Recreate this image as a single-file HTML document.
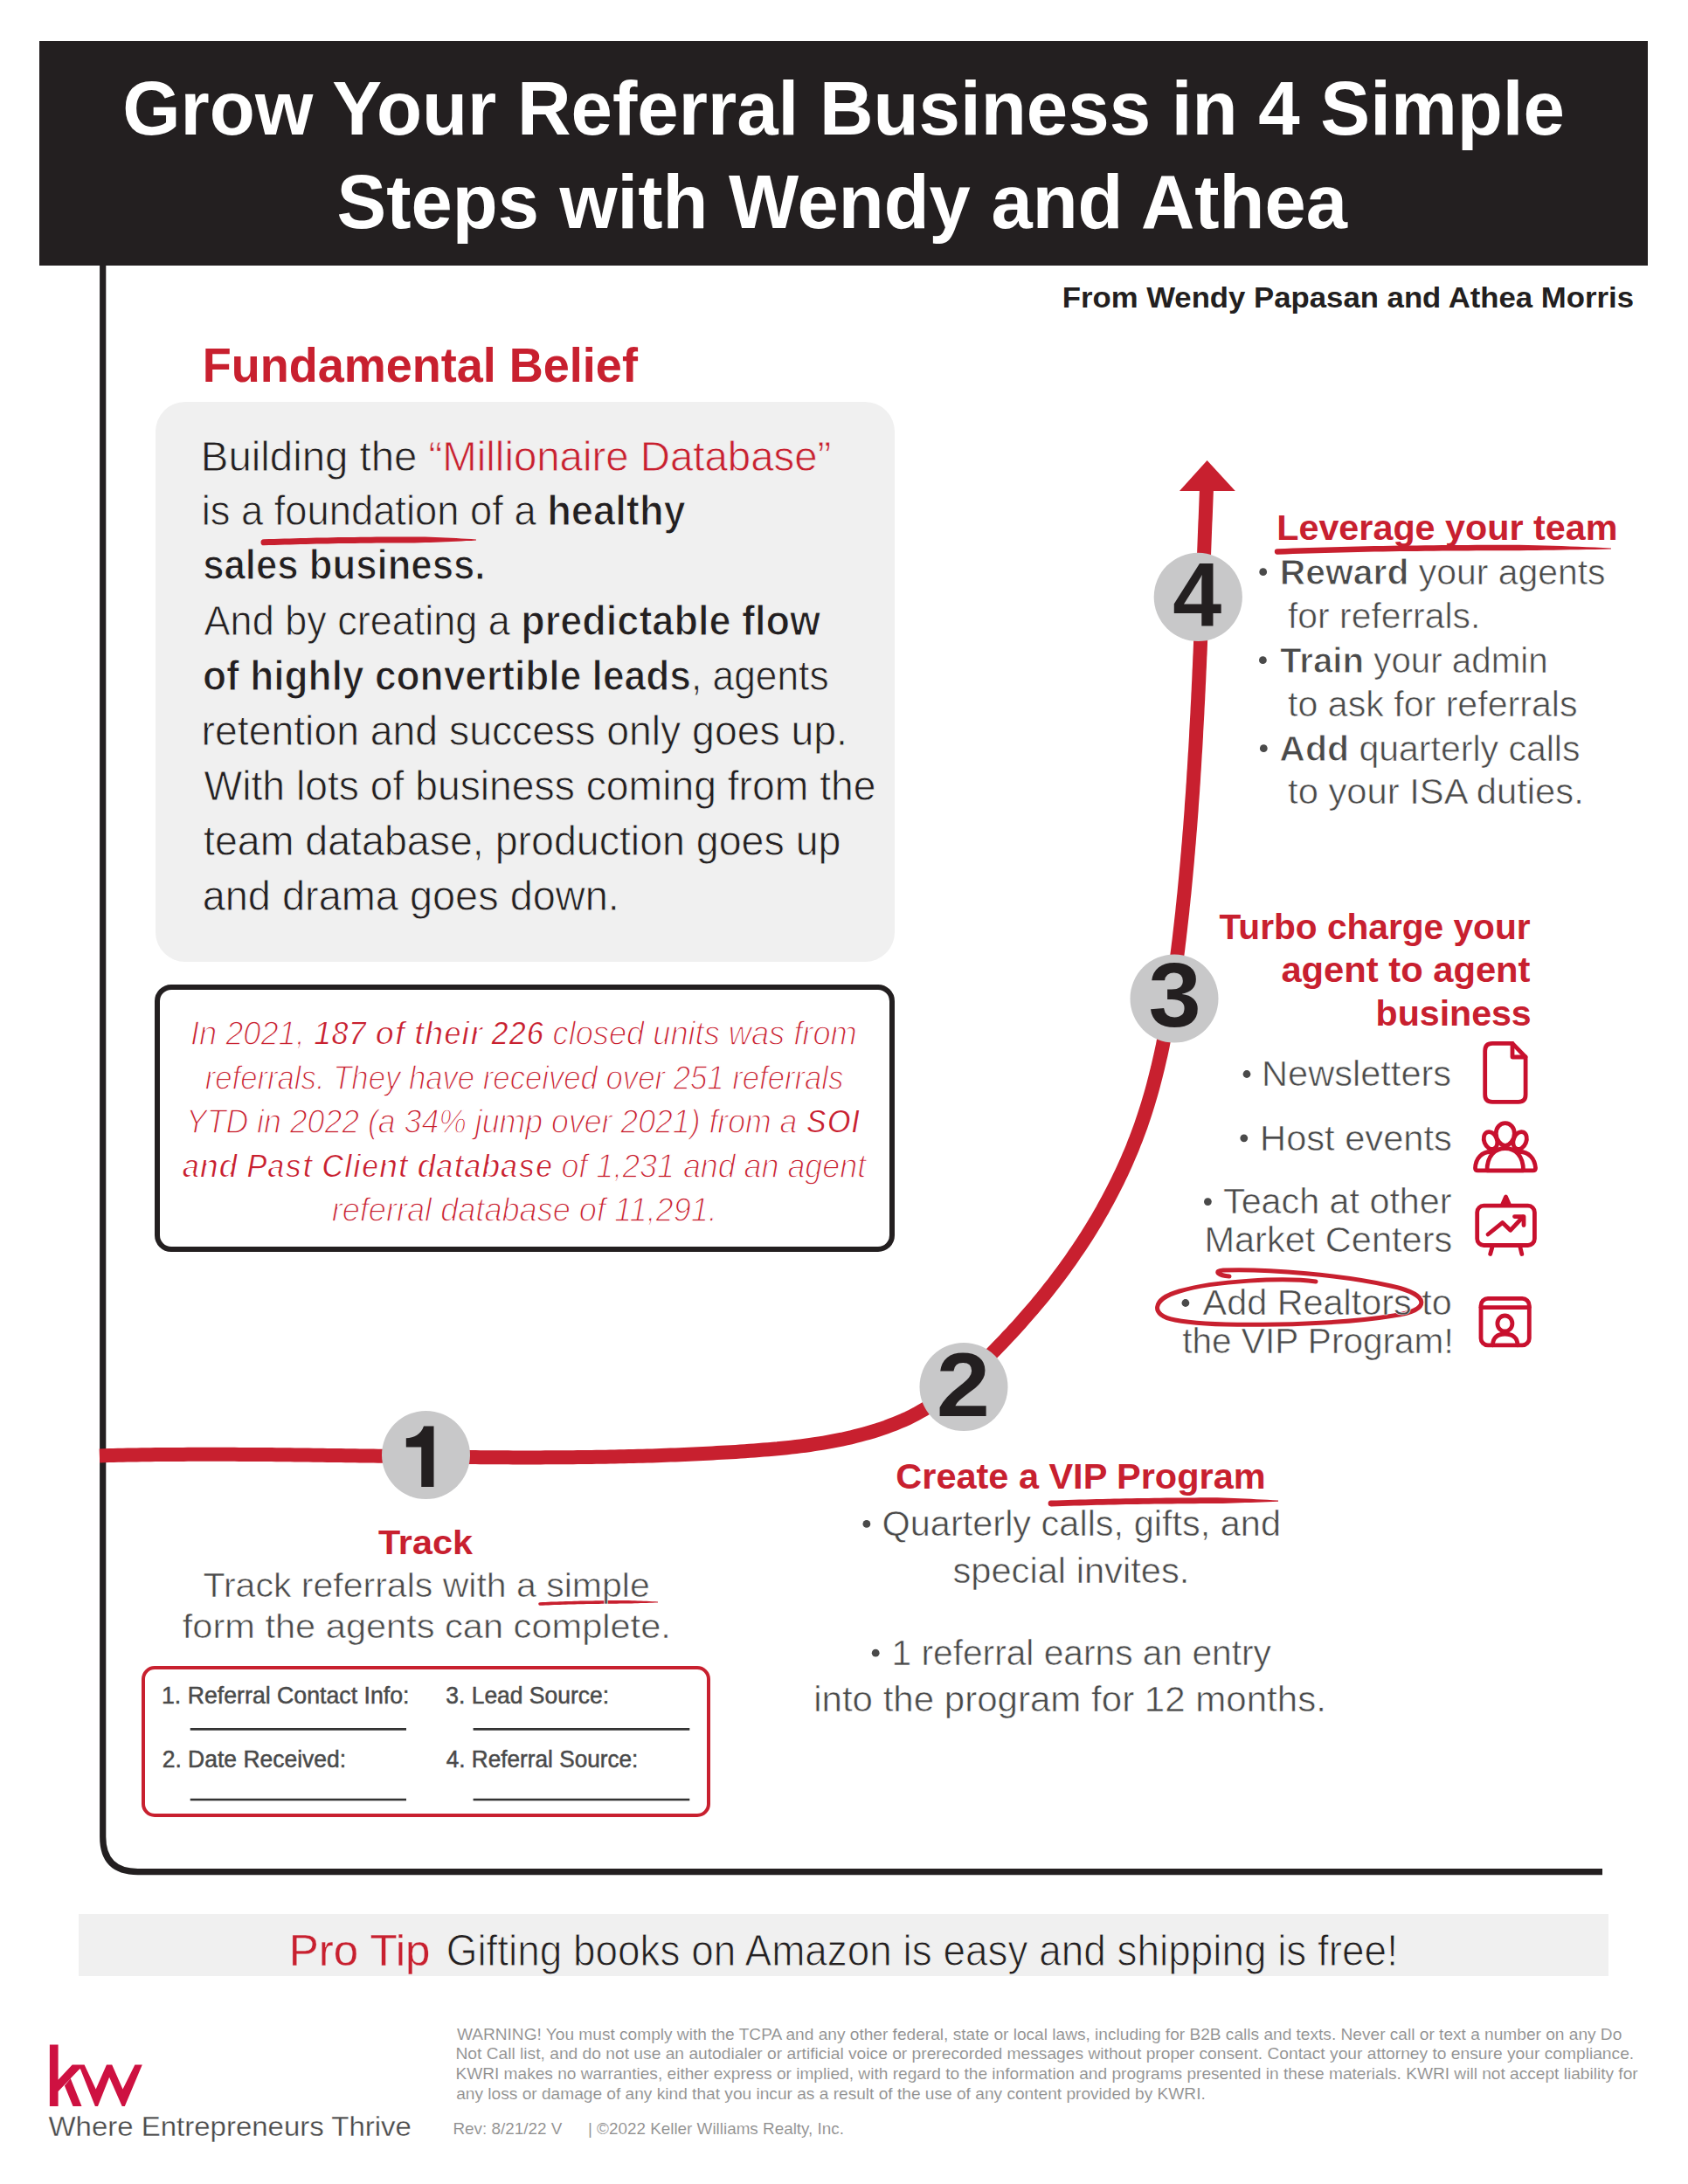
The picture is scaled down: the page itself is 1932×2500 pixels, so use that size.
<!DOCTYPE html>
<html><head><meta charset="utf-8"><title>Grow Your Referral Business in 4 Simple Steps</title>
<style>
html,body{margin:0;padding:0;background:#fff;}
body{width:1932px;height:2500px;position:relative;overflow:hidden;font-family:"Liberation Sans",sans-serif;}
.abs{position:absolute;}
#hdr{left:45px;top:47px;width:1841px;height:257px;background:#231f20;}
#gray{left:178px;top:460px;width:846px;height:641px;background:#f0f0f0;border-radius:34px;}
#stat{left:177px;top:1127px;width:835px;height:294px;border:6.5px solid #231f20;border-radius:19px;background:#fff;}
#form{left:162px;top:1907px;width:643px;height:165px;border:4px solid #c8202f;border-radius:15px;}
#tip{left:90px;top:2191px;width:1751px;height:71px;background:#f0f0f0;}
svg{position:absolute;left:0;top:0;}
text{font-family:"Liberation Sans",sans-serif;}
</style></head>
<body>
<div class="abs" id="hdr"></div>
<div class="abs" id="gray"></div>
<div class="abs" id="stat"></div>
<div class="abs" id="form"></div>
<div class="abs" id="tip"></div>
<svg width="1932" height="2500" viewBox="0 0 1932 2500">

<!-- axes -->
<path d="M 117.7 300 V 2102.6 Q 117.7 2142.6 157.7 2142.6 H 1834" fill="none" stroke="#231f20" stroke-width="7.2"/>
<!-- curve -->
<path d="M 113.9 1666.4 L 119.3 1666.2 L 124.6 1666.1 L 129.9 1666.0 L 135.2 1665.8 L 140.6 1665.7 L 145.9 1665.6 L 151.2 1665.5 L 156.5 1665.4 L 161.9 1665.3 L 167.2 1665.3 L 172.5 1665.2 L 177.8 1665.1 L 183.2 1665.1 L 188.5 1665.0 L 193.8 1665.0 L 199.1 1664.9 L 204.4 1664.9 L 209.8 1664.9 L 215.1 1664.8 L 220.4 1664.8 L 225.7 1664.8 L 231.0 1664.8 L 236.4 1664.8 L 241.7 1664.8 L 247.0 1664.8 L 252.3 1664.8 L 257.6 1664.8 L 262.9 1664.8 L 268.3 1664.8 L 273.6 1664.9 L 278.9 1664.9 L 284.2 1664.9 L 289.5 1664.9 L 294.8 1665.0 L 300.1 1665.0 L 305.5 1665.1 L 310.8 1665.1 L 316.1 1665.2 L 321.4 1665.2 L 326.7 1665.3 L 332.0 1665.3 L 337.3 1665.4 L 342.6 1665.5 L 348.0 1665.5 L 353.3 1665.6 L 358.6 1665.7 L 363.9 1665.7 L 369.2 1665.8 L 374.5 1665.9 L 379.8 1665.9 L 385.1 1666.0 L 390.4 1666.1 L 395.8 1666.2 L 401.1 1666.2 L 406.4 1666.3 L 411.7 1666.4 L 417.0 1666.5 L 422.3 1666.6 L 427.6 1666.6 L 432.9 1666.7 L 438.2 1666.8 L 443.5 1666.9 L 448.9 1667.0 L 454.2 1667.0 L 459.5 1667.1 L 464.8 1667.2 L 470.1 1667.3 L 475.4 1667.3 L 480.7 1667.4 L 486.0 1667.5 L 491.3 1667.5 L 496.6 1667.6 L 501.9 1667.7 L 507.3 1667.7 L 512.6 1667.8 L 517.9 1667.9 L 523.2 1667.9 L 528.5 1668.0 L 533.8 1668.0 L 539.1 1668.1 L 544.4 1668.1 L 549.7 1668.2 L 555.0 1668.2 L 560.3 1668.2 L 565.7 1668.3 L 571.0 1668.3 L 576.3 1668.3 L 581.6 1668.3 L 586.9 1668.4 L 592.2 1668.4 L 597.5 1668.4 L 602.8 1668.4 L 608.1 1668.4 L 613.4 1668.4 L 618.8 1668.4 L 624.1 1668.3 L 629.4 1668.3 L 634.7 1668.3 L 640.0 1668.3 L 645.3 1668.2 L 650.6 1668.2 L 655.9 1668.2 L 661.2 1668.1 L 666.6 1668.0 L 671.9 1668.0 L 677.2 1667.9 L 682.5 1667.8 L 687.8 1667.7 L 693.1 1667.7 L 698.4 1667.6 L 703.7 1667.5 L 709.1 1667.3 L 714.4 1667.2 L 719.7 1667.1 L 725.0 1667.0 L 730.3 1666.8 L 735.6 1666.7 L 740.9 1666.5 L 746.3 1666.4 L 751.6 1666.2 L 756.9 1666.0 L 762.2 1665.8 L 767.5 1665.6 L 772.8 1665.4 L 778.2 1665.2 L 783.5 1665.0 L 788.8 1664.7 L 794.1 1664.5 L 799.4 1664.2 L 804.7 1664.0 L 810.1 1663.7 L 815.4 1663.4 L 820.7 1663.1 L 826.0 1662.8 L 831.4 1662.5 L 836.7 1662.2 L 842.0 1661.9 L 847.3 1661.5 L 852.6 1661.2 L 858.0 1660.8 L 863.3 1660.4 L 868.6 1660.0 L 873.9 1659.6 L 879.2 1659.2 L 884.6 1658.7 L 889.9 1658.3 L 895.2 1657.7 L 900.5 1657.2 L 905.8 1656.6 L 911.1 1656.0 L 916.3 1655.4 L 921.6 1654.7 L 926.9 1654.0 L 932.1 1653.2 L 937.4 1652.4 L 942.6 1651.6 L 947.8 1650.7 L 953.0 1649.7 L 958.2 1648.7 L 963.4 1647.7 L 968.6 1646.5 L 973.8 1645.4 L 978.9 1644.1 L 984.0 1642.8 L 989.1 1641.4 L 994.2 1640.0 L 999.3 1638.5 L 1004.4 1636.9 L 1009.4 1635.2 L 1014.4 1633.5 L 1019.4 1631.6 L 1024.3 1629.7 L 1029.2 1627.7 L 1034.1 1625.6 L 1038.9 1623.4 L 1043.6 1621.1 L 1048.3 1618.7 L 1053.0 1616.1 L 1057.5 1613.5 L 1062.0 1610.8 L 1066.5 1607.9 L 1070.9 1605.0 L 1075.2 1602.0 L 1079.5 1598.9 L 1083.8 1595.7 L 1087.9 1592.4 L 1092.1 1589.1 L 1096.2 1585.7 L 1100.2 1582.3 L 1104.3 1578.7 L 1108.2 1575.2 L 1112.2 1571.6 L 1116.1 1567.9 L 1120.0 1564.2 L 1123.8 1560.5 L 1127.6 1556.7 L 1131.4 1552.9 L 1135.2 1549.1 L 1138.9 1545.3 L 1142.7 1541.4 L 1146.4 1537.6 L 1150.1 1533.7 L 1153.7 1529.8 L 1157.4 1525.9 L 1161.0 1522.0 L 1164.6 1518.1 L 1168.2 1514.1 L 1171.7 1510.1 L 1175.2 1506.1 L 1178.7 1502.1 L 1182.2 1498.1 L 1185.6 1494.0 L 1189.0 1489.9 L 1192.4 1485.8 L 1195.8 1481.7 L 1199.1 1477.5 L 1202.4 1473.3 L 1205.7 1469.1 L 1208.9 1464.9 L 1212.1 1460.6 L 1215.3 1456.4 L 1218.5 1452.1 L 1221.6 1447.7 L 1224.7 1443.4 L 1227.7 1439.0 L 1230.7 1434.6 L 1233.7 1430.2 L 1236.7 1425.8 L 1239.6 1421.3 L 1242.5 1416.9 L 1245.3 1412.4 L 1248.1 1407.9 L 1250.9 1403.3 L 1253.7 1398.8 L 1256.4 1394.2 L 1259.0 1389.6 L 1261.7 1385.0 L 1264.2 1380.3 L 1266.8 1375.7 L 1269.3 1371.0 L 1271.8 1366.3 L 1274.2 1361.6 L 1276.6 1356.9 L 1279.0 1352.1 L 1281.3 1347.3 L 1283.6 1342.6 L 1285.8 1337.7 L 1288.0 1332.9 L 1290.1 1328.1 L 1292.2 1323.2 L 1294.3 1318.3 L 1296.3 1313.5 L 1298.2 1308.5 L 1300.2 1303.6 L 1302.0 1298.7 L 1303.9 1293.7 L 1305.7 1288.7 L 1307.4 1283.7 L 1309.1 1278.7 L 1310.7 1273.7 L 1312.3 1268.7 L 1313.9 1263.6 L 1315.4 1258.5 L 1316.9 1253.4 L 1318.4 1248.3 L 1319.8 1243.2 L 1321.1 1238.1 L 1322.4 1233.0 L 1323.7 1227.8 L 1325.0 1222.7 L 1326.2 1217.5 L 1327.4 1212.3 L 1328.6 1207.2 L 1329.7 1202.0 L 1330.8 1196.8 L 1331.8 1191.5 L 1332.9 1186.3 L 1333.9 1181.1 L 1334.9 1175.9 L 1335.8 1170.6 L 1336.8 1165.4 L 1337.7 1160.1 L 1338.5 1154.9 L 1339.4 1149.6 L 1340.2 1144.3 L 1341.0 1139.0 L 1341.8 1133.8 L 1342.6 1128.5 L 1343.4 1123.2 L 1344.1 1117.9 L 1344.9 1112.6 L 1345.6 1107.3 L 1346.3 1102.0 L 1346.9 1096.7 L 1347.6 1091.4 L 1348.3 1086.1 L 1348.9 1080.8 L 1349.6 1075.5 L 1350.2 1070.2 L 1350.8 1065.0 L 1351.4 1059.7 L 1352.0 1054.4 L 1352.6 1049.1 L 1353.2 1043.8 L 1353.7 1038.5 L 1354.3 1033.2 L 1354.8 1027.9 L 1355.4 1022.6 L 1355.9 1017.3 L 1356.4 1012.0 L 1356.9 1006.7 L 1357.4 1001.4 L 1357.9 996.1 L 1358.4 990.8 L 1358.9 985.5 L 1359.3 980.2 L 1359.8 975.0 L 1360.2 969.7 L 1360.7 964.4 L 1361.1 959.1 L 1361.5 953.8 L 1362.0 948.5 L 1362.4 943.2 L 1362.8 937.9 L 1363.2 932.6 L 1363.6 927.3 L 1363.9 922.0 L 1364.3 916.7 L 1364.7 911.4 L 1365.1 906.1 L 1365.4 900.8 L 1365.8 895.6 L 1366.1 890.3 L 1366.4 885.0 L 1366.8 879.7 L 1367.1 874.4 L 1367.4 869.1 L 1367.7 863.8 L 1368.1 858.5 L 1368.4 853.2 L 1368.7 847.9 L 1369.0 842.6 L 1369.2 837.3 L 1369.5 832.0 L 1369.8 826.7 L 1370.1 821.4 L 1370.4 816.1 L 1370.6 810.8 L 1370.9 805.5 L 1371.2 800.2 L 1371.4 794.9 L 1371.7 789.6 L 1371.9 784.3 L 1372.2 779.0 L 1372.4 773.7 L 1372.6 768.4 L 1372.9 763.1 L 1373.1 757.8 L 1373.3 752.5 L 1373.6 747.2 L 1373.8 741.9 L 1374.0 736.6 L 1374.2 731.3 L 1374.5 726.0 L 1374.7 720.7 L 1374.9 715.4 L 1375.1 710.1 L 1375.3 704.8 L 1375.5 699.5 L 1375.7 694.2 L 1376.0 688.8 L 1376.2 683.5 L 1376.4 678.2 L 1376.6 672.9 L 1376.8 667.6 L 1377.0 662.3 L 1377.2 657.0 L 1377.4 651.7 L 1377.6 646.4 L 1377.8 641.0 L 1378.0 635.7 L 1378.2 630.4 L 1378.4 625.1 L 1378.6 619.8 L 1378.8 614.5 L 1379.0 609.1 L 1379.2 603.8 L 1379.4 598.5 L 1379.7 593.2 L 1379.9 587.9 L 1380.1 582.5 L 1380.3 577.2 L 1380.5 571.9 L 1380.7 566.6 L 1380.9 561.2 L 1381.2 555.9 L 1381.4 550.6 L 1381.6 545.3 L 1381.8 539.9" fill="none" stroke="#c8202f" stroke-width="16"/>
<path d="M 1350 562 L 1381.6 527 L 1413.8 562 Z" fill="#c8202f"/>
<!-- circles -->
<circle cx="487.5" cy="1665.5" r="50.5" fill="#c8c8c9"/>
<circle cx="1103" cy="1587.5" r="50.5" fill="#c8c8c9"/>
<circle cx="1344" cy="1143" r="50.5" fill="#c8c8c9"/>
<circle cx="1371.3" cy="683.4" r="50.6" fill="#c8c8c9"/>
<path d="M 496.5 1632.6 V 1702.1 H 482.25 V 1656.6 H 464.8 V 1646.3 C 474 1646.3, 482 1641.5, 485 1632.6 Z" fill="#231f20"/>
<!-- bullets -->
<circle cx="1445.7" cy="654.7" r="4.4" fill="#4a4a4a"/>
<circle cx="1445.4" cy="755.7" r="4.4" fill="#4a4a4a"/>
<circle cx="1446.3" cy="856.7" r="4.4" fill="#4a4a4a"/>
<circle cx="1427.0" cy="1229.5" r="4.4" fill="#4a4a4a"/>
<circle cx="1423.8" cy="1302.8" r="4.4" fill="#4a4a4a"/>
<circle cx="1382.4" cy="1375.6" r="4.4" fill="#4a4a4a"/>
<circle cx="1356.9" cy="1491.5" r="4.4" fill="#4a4a4a"/>
<circle cx="991.9" cy="1744.4" r="4.4" fill="#4a4a4a"/>
<circle cx="1002.2" cy="1892.2" r="4.4" fill="#4a4a4a"/>
<!-- scribbles -->
<path d="M 302.1 624.3 L 308.0 624.1 L 313.9 623.9 L 319.8 623.7 L 325.8 623.5 L 331.9 623.4 L 337.9 623.2 L 344.0 623.0 L 350.1 622.9 L 356.2 622.7 L 362.4 622.6 L 368.6 622.5 L 374.8 622.4 L 381.0 622.3 L 387.2 622.1 L 393.4 622.1 L 399.7 622.0 L 405.9 621.9 L 412.2 621.8 L 418.4 621.7 L 424.7 621.7 L 430.9 621.6 L 437.1 621.6 L 443.3 621.5 L 449.5 621.5 L 455.7 621.4 L 461.9 621.4 L 468.1 621.4 L 474.2 621.4 L 480.3 621.3 L 486.4 621.1 L 492.4 620.9 L 498.4 620.7 L 504.4 620.4 L 510.3 620.2 L 516.2 619.9 L 522.1 619.7 L 527.9 619.4 L 533.6 619.1 L 539.3 618.9 L 545.0 618.6 L 545.0 617.4 L 539.4 617.1 L 533.6 616.7 L 527.9 616.4 L 522.1 616.1 L 516.2 615.8 L 510.3 615.5 L 504.4 615.2 L 498.4 615.0 L 492.4 614.7 L 486.4 614.5 L 480.3 614.4 L 474.2 614.4 L 468.0 614.4 L 461.9 614.4 L 455.7 614.4 L 449.5 614.5 L 443.3 614.5 L 437.1 614.6 L 430.8 614.6 L 424.6 614.7 L 418.3 614.7 L 412.1 614.8 L 405.8 614.9 L 399.6 615.0 L 393.3 615.1 L 387.1 615.1 L 380.9 615.3 L 374.6 615.4 L 368.4 615.5 L 362.3 615.6 L 356.1 615.7 L 349.9 615.9 L 343.8 616.0 L 337.7 616.2 L 331.7 616.4 L 325.6 616.5 L 319.6 616.7 L 313.7 616.9 L 307.8 617.1 L 301.9 617.3 A 3.5 3.5 0 0 0 302.1 624.3 Z" fill="#c8202f"/>
<path d="M 1462.1 634.7 L 1471.0 634.4 L 1480.0 634.1 L 1489.0 633.8 L 1498.1 633.5 L 1507.3 633.2 L 1516.5 633.0 L 1525.9 632.7 L 1535.2 632.5 L 1544.6 632.2 L 1554.1 632.0 L 1563.6 631.8 L 1573.2 631.6 L 1582.8 631.5 L 1592.4 631.3 L 1602.1 631.1 L 1611.8 631.0 L 1621.5 630.9 L 1631.2 630.8 L 1641.0 630.7 L 1650.8 630.6 L 1660.6 630.5 L 1670.4 630.4 L 1680.2 630.4 L 1690.0 630.3 L 1699.8 630.3 L 1709.6 630.3 L 1719.3 630.3 L 1729.1 630.3 L 1738.9 630.3 L 1748.6 630.1 L 1758.3 630.0 L 1768.0 629.8 L 1777.6 629.7 L 1787.2 629.5 L 1796.8 629.3 L 1806.3 629.2 L 1815.8 629.0 L 1825.3 628.9 L 1834.7 628.7 L 1844.0 628.6 L 1844.0 627.4 L 1834.7 627.0 L 1825.3 626.6 L 1815.9 626.2 L 1806.4 625.8 L 1796.8 625.4 L 1787.3 625.1 L 1777.7 624.8 L 1768.0 624.5 L 1758.3 624.2 L 1748.6 624.0 L 1738.9 623.8 L 1729.1 623.8 L 1719.3 623.8 L 1709.5 623.8 L 1699.7 623.8 L 1689.9 623.8 L 1680.1 623.9 L 1670.3 623.9 L 1660.5 624.0 L 1650.7 624.1 L 1640.9 624.2 L 1631.2 624.3 L 1621.4 624.4 L 1611.7 624.5 L 1602.0 624.6 L 1592.3 624.8 L 1582.7 625.0 L 1573.1 625.1 L 1563.5 625.3 L 1554.0 625.5 L 1544.5 625.7 L 1535.1 626.0 L 1525.7 626.2 L 1516.4 626.5 L 1507.1 626.7 L 1497.9 627.0 L 1488.8 627.3 L 1479.7 627.6 L 1470.8 627.9 L 1461.9 628.3 A 3.2 3.2 0 0 0 1462.1 634.7 Z" fill="#c8202f"/>
<path d="M 1203.1 1724.4 L 1209.6 1724.2 L 1216.2 1724.0 L 1222.7 1723.8 L 1229.3 1723.6 L 1235.8 1723.4 L 1242.4 1723.2 L 1249.0 1723.0 L 1255.6 1722.8 L 1262.1 1722.7 L 1268.7 1722.5 L 1275.3 1722.4 L 1281.9 1722.2 L 1288.5 1722.1 L 1295.1 1722.0 L 1301.7 1721.9 L 1308.3 1721.8 L 1314.8 1721.7 L 1321.4 1721.6 L 1328.0 1721.5 L 1334.5 1721.4 L 1341.1 1721.4 L 1347.6 1721.3 L 1354.2 1721.2 L 1360.7 1721.2 L 1367.2 1721.2 L 1373.7 1721.1 L 1380.2 1721.1 L 1386.7 1721.1 L 1393.1 1721.1 L 1399.6 1720.9 L 1406.0 1720.7 L 1412.4 1720.5 L 1418.8 1720.3 L 1425.2 1720.1 L 1431.6 1719.9 L 1437.9 1719.7 L 1444.2 1719.4 L 1450.5 1719.2 L 1456.8 1719.0 L 1463.0 1718.8 L 1463.0 1717.6 L 1456.8 1717.2 L 1450.5 1716.8 L 1444.2 1716.5 L 1437.9 1716.2 L 1431.6 1715.8 L 1425.2 1715.5 L 1418.8 1715.2 L 1412.5 1715.0 L 1406.0 1714.7 L 1399.6 1714.5 L 1393.1 1714.3 L 1386.7 1714.3 L 1380.2 1714.3 L 1373.7 1714.3 L 1367.2 1714.4 L 1360.7 1714.4 L 1354.1 1714.4 L 1347.6 1714.5 L 1341.0 1714.6 L 1334.5 1714.6 L 1327.9 1714.7 L 1321.3 1714.8 L 1314.7 1714.9 L 1308.1 1715.0 L 1301.6 1715.1 L 1295.0 1715.2 L 1288.4 1715.3 L 1281.8 1715.4 L 1275.2 1715.6 L 1268.6 1715.7 L 1262.0 1715.9 L 1255.4 1716.0 L 1248.8 1716.2 L 1242.2 1716.4 L 1235.6 1716.6 L 1229.1 1716.8 L 1222.5 1717.0 L 1216.0 1717.2 L 1209.4 1717.4 L 1202.9 1717.6 A 3.4 3.4 0 0 0 1203.1 1724.4 Z" fill="#c8202f"/>
<path d="M 618.1 1837.8 L 621.2 1837.7 L 624.4 1837.5 L 627.7 1837.4 L 630.9 1837.2 L 634.2 1837.1 L 637.5 1837.0 L 640.8 1836.9 L 644.1 1836.8 L 647.4 1836.7 L 650.8 1836.6 L 654.2 1836.5 L 657.6 1836.4 L 661.0 1836.3 L 664.4 1836.2 L 667.9 1836.2 L 671.3 1836.1 L 674.8 1836.0 L 678.2 1836.0 L 681.7 1835.9 L 685.1 1835.9 L 688.6 1835.8 L 692.1 1835.8 L 695.6 1835.7 L 699.0 1835.7 L 702.5 1835.7 L 705.9 1835.7 L 709.4 1835.6 L 712.8 1835.6 L 716.3 1835.6 L 719.7 1835.5 L 723.1 1835.4 L 726.5 1835.3 L 729.9 1835.2 L 733.2 1835.1 L 736.6 1835.0 L 739.9 1834.9 L 743.2 1834.8 L 746.5 1834.7 L 749.8 1834.6 L 753.0 1834.5 L 753.0 1833.5 L 749.8 1833.3 L 746.5 1833.2 L 743.2 1833.0 L 739.9 1832.8 L 736.6 1832.7 L 733.2 1832.6 L 729.9 1832.4 L 726.5 1832.3 L 723.1 1832.2 L 719.7 1832.1 L 716.2 1832.0 L 712.8 1832.0 L 709.4 1832.0 L 705.9 1832.1 L 702.5 1832.1 L 699.0 1832.1 L 695.5 1832.1 L 692.0 1832.2 L 688.6 1832.2 L 685.1 1832.3 L 681.6 1832.3 L 678.2 1832.4 L 674.7 1832.4 L 671.2 1832.5 L 667.8 1832.6 L 664.4 1832.6 L 660.9 1832.7 L 657.5 1832.8 L 654.1 1832.9 L 650.7 1833.0 L 647.3 1833.1 L 644.0 1833.2 L 640.6 1833.3 L 637.3 1833.4 L 634.0 1833.5 L 630.8 1833.6 L 627.5 1833.8 L 624.3 1833.9 L 621.1 1834.1 L 617.9 1834.2 A 1.8 1.8 0 0 0 618.1 1837.8 Z" fill="#c8202f"/>
<path d="M 1506 1467 C 1470 1462, 1390 1466, 1350 1478 C 1318 1487, 1316 1506, 1345 1511 C 1390 1520, 1530 1517, 1595 1506 C 1638 1500, 1638 1482, 1592 1472 C 1540 1460, 1450 1452, 1400 1454 C 1388 1455, 1395 1460, 1407 1461" fill="none" stroke="#c8202f" stroke-width="5" stroke-linecap="round"/>
<!-- icons -->
<g fill="none" stroke="#c8102e" stroke-width="4.8" stroke-linecap="round" stroke-linejoin="round">
  <path d="M 1708 1194.4 H 1731 L 1746.1 1210 V 1253 Q 1746.1 1261.3 1738 1261.3 H 1708 Q 1699.7 1261.3 1699.7 1253 V 1203 Q 1699.7 1194.4 1708 1194.4 Z"/>
  <path d="M 1731 1194.4 V 1210 H 1746.1"/>
  <ellipse cx="1706" cy="1305.5" rx="7.3" ry="10.3" transform="rotate(-22 1706 1305.5)" fill="#fff"/>
  <ellipse cx="1739.6" cy="1305.5" rx="7.3" ry="10.3" transform="rotate(22 1739.6 1305.5)" fill="#fff"/>
  <path d="M 1722.8 1285.7 C 1729 1285.7, 1733.3 1291, 1733.3 1297.5 C 1733.3 1304.5, 1728 1311.4, 1722.8 1311.4 C 1717.6 1311.4, 1712.3 1304.5, 1712.3 1297.5 C 1712.3 1291, 1716.6 1285.7, 1722.8 1285.7 Z" fill="#fff"/>
  <path d="M 1688.5 1337 C 1689 1326, 1696 1318.5, 1706 1318.5 L 1739.6 1318.5 C 1749.6 1318.5, 1756.6 1326, 1757.5 1337 Q 1757.5 1339.9 1754.5 1339.9 H 1691.5 Q 1688.5 1339.9 1688.5 1337 Z" fill="#fff"/>
  <path d="M 1702 1339.9 C 1702 1323, 1711 1314.5, 1722.8 1314.5 C 1734.5 1314.5, 1743.5 1323, 1743.5 1339.9 Z" fill="#fff"/>
  <rect x="1690.7" y="1380.2" width="65.7" height="45.3" rx="7.5"/>
  <path d="M 1720 1378 L 1723.5 1370 L 1727 1378 Z" fill="#c8102e"/>
  <path d="M 1707.8 1428 L 1705.7 1435.5 M 1740 1428 L 1741.8 1435.5"/>
  <path d="M 1703 1413 L 1719.6 1399.6 L 1728.7 1408.3 L 1743.1 1393"/>
  <path d="M 1733.5 1392.6 H 1744 V 1402.6"/>
  <rect x="1695" y="1486.4" width="55.3" height="53.5" rx="8"/>
  <path d="M 1695 1496.6 H 1750.3"/>
  <ellipse cx="1722.4" cy="1515" rx="8.5" ry="9"/>
  <path d="M 1708.5 1539.9 C 1708.5 1531, 1714 1527, 1722.4 1527 C 1731 1527, 1737 1531, 1737 1539.9"/>
</g>
<!-- form underlines -->
<g stroke="#333" stroke-width="2.6">
 <path d="M 217.7 1979.4 H 465 M 541.6 1979.4 H 789.3 M 217.7 2060 H 465 M 541.6 2060 H 789.3"/>
</g>
<!-- kw logo -->
<path fill="#ce1141" d="M 56.9 2340.4 H 66.6 V 2410.9 H 56.9 Z M 66.6 2380.8 L 82.7 2363.5 L 96.6 2363.5 L 90 2369.5 L 66.6 2393.9 Z M 73.9 2387.4 L 80.8 2379.3 L 93.5 2410.9 L 83.5 2410.9 Z M 90.05 2363.5 H 96.6 L 109.7 2391.6 L 122 2363.5 H 128.2 L 140.5 2391.6 L 154.4 2363.5 H 162.8 L 142.8 2410.9 H 139.7 L 125.1 2377.7 L 112 2410.9 H 108.9 Z"/>

<text x="140.3" textLength="1650.6" lengthAdjust="spacingAndGlyphs" y="153.6" fill="#ffffff"   style="font-size:88.0px" xml:space="preserve"><tspan font-weight="bold">Grow Your Referral Business in 4 Simple</tspan></text>
<text x="385.6" textLength="1156.3" lengthAdjust="spacingAndGlyphs" y="260.6" fill="#ffffff"   style="font-size:88.0px" xml:space="preserve"><tspan font-weight="bold">Steps with Wendy and Athea</tspan></text>
<text x="1215.7" textLength="654.3" lengthAdjust="spacingAndGlyphs" y="352.0" fill="#231f20"   style="font-size:34.0px" xml:space="preserve"><tspan font-weight="bold">From Wendy Papasan and Athea Morris</tspan></text>
<text x="231.7" textLength="498.2" lengthAdjust="spacingAndGlyphs" y="436.5" fill="#c8202f"   style="font-size:55.0px" xml:space="preserve"><tspan font-weight="bold">Fundamental Belief</tspan></text>
<text x="229.8" textLength="721.6" lengthAdjust="spacingAndGlyphs" y="538.6" fill="#231f20" stroke="#f0f0f0" stroke-width="0.80"  style="font-size:48.0px" xml:space="preserve"><tspan >Building the </tspan><tspan fill="#c8202f">“Millionaire Database”</tspan></text>
<text x="230.7" textLength="554.1" lengthAdjust="spacingAndGlyphs" y="600.5" fill="#231f20" stroke="#f0f0f0" stroke-width="0.80"  style="font-size:48.0px" xml:space="preserve"><tspan >is a foundation of a </tspan><tspan font-weight="bold" stroke-width="1.20">healthy</tspan></text>
<text x="232.2" textLength="323.3" lengthAdjust="spacingAndGlyphs" y="663.0" fill="#231f20" stroke="#f0f0f0" stroke-width="0.80"  style="font-size:48.0px" xml:space="preserve"><tspan font-weight="bold" stroke-width="1.20">sales business.</tspan></text>
<text x="233.6" textLength="705.3" lengthAdjust="spacingAndGlyphs" y="727.0" fill="#231f20" stroke="#f0f0f0" stroke-width="0.80"  style="font-size:48.0px" xml:space="preserve"><tspan >And by creating a </tspan><tspan font-weight="bold" stroke-width="1.20">predictable flow</tspan></text>
<text x="232.0" textLength="716.6" lengthAdjust="spacingAndGlyphs" y="789.5" fill="#231f20" stroke="#f0f0f0" stroke-width="0.80"  style="font-size:48.0px" xml:space="preserve"><tspan font-weight="bold" stroke-width="1.20">of highly convertible leads</tspan><tspan >, agents</tspan></text>
<text x="230.6" textLength="739.3" lengthAdjust="spacingAndGlyphs" y="852.5" fill="#231f20" stroke="#f0f0f0" stroke-width="0.80"  style="font-size:48.0px" xml:space="preserve"><tspan >retention and success only goes up.</tspan></text>
<text x="233.5" textLength="769.0" lengthAdjust="spacingAndGlyphs" y="915.5" fill="#231f20" stroke="#f0f0f0" stroke-width="0.80"  style="font-size:48.0px" xml:space="preserve"><tspan >With lots of business coming from the</tspan></text>
<text x="233.0" textLength="729.4" lengthAdjust="spacingAndGlyphs" y="978.5" fill="#231f20" stroke="#f0f0f0" stroke-width="0.80"  style="font-size:48.0px" xml:space="preserve"><tspan >team database, production goes up</tspan></text>
<text x="231.7" textLength="477.1" lengthAdjust="spacingAndGlyphs" y="1041.5" fill="#231f20" stroke="#f0f0f0" stroke-width="0.80"  style="font-size:48.0px" xml:space="preserve"><tspan >and drama goes down.</tspan></text>
<text x="217.9" textLength="762.8" lengthAdjust="spacingAndGlyphs" y="1196.0" fill="#c8202f" stroke="#fff" stroke-width="1.30"  style="font-size:39.0px" xml:space="preserve"><tspan font-style="italic">In 2021, </tspan><tspan font-weight="bold" font-style="italic" stroke-width="2.20">187 of their 226</tspan><tspan font-style="italic"> closed units was from</tspan></text>
<text x="234.7" textLength="730.7" lengthAdjust="spacingAndGlyphs" y="1246.6" fill="#c8202f" stroke="#fff" stroke-width="1.30"  style="font-size:39.0px" xml:space="preserve"><tspan font-style="italic">referrals. They have received over 251 referrals</tspan></text>
<text x="212.9" textLength="770.9" lengthAdjust="spacingAndGlyphs" y="1297.3" fill="#c8202f" stroke="#fff" stroke-width="1.30"  style="font-size:39.0px" xml:space="preserve"><tspan font-style="italic">YTD in 2022 (a 34% jump over 2021) from a </tspan><tspan font-weight="bold" font-style="italic" stroke-width="2.20">SOI</tspan></text>
<text x="208.4" textLength="782.7" lengthAdjust="spacingAndGlyphs" y="1348.0" fill="#c8202f" stroke="#fff" stroke-width="1.30"  style="font-size:39.0px" xml:space="preserve"><tspan font-weight="bold" font-style="italic" stroke-width="2.20">and Past Client database</tspan><tspan font-style="italic"> of 1,231 and an agent</tspan></text>
<text x="379.7" textLength="441.2" lengthAdjust="spacingAndGlyphs" y="1397.5" fill="#c8202f" stroke="#fff" stroke-width="1.30"  style="font-size:39.0px" xml:space="preserve"><tspan font-style="italic">referral database of 11,291.</tspan></text>
<text x="1461.2" textLength="390.3" lengthAdjust="spacingAndGlyphs" y="618.0" fill="#c8202f"   style="font-size:40.5px" xml:space="preserve"><tspan font-weight="bold">Leverage your team</tspan></text>
<text x="1464.8" textLength="372.7" lengthAdjust="spacingAndGlyphs" y="668.5" fill="#4a4a4a" stroke="#fff" stroke-width="0.60"  style="font-size:40.5px" xml:space="preserve"><tspan font-weight="bold" stroke-width="1.00">Reward</tspan><tspan > your agents</tspan></text>
<text x="1474.0" textLength="220.3" lengthAdjust="spacingAndGlyphs" y="719.0" fill="#4a4a4a" stroke="#fff" stroke-width="0.60"  style="font-size:40.5px" xml:space="preserve"><tspan >for referrals.</tspan></text>
<text x="1464.9" textLength="306.7" lengthAdjust="spacingAndGlyphs" y="769.5" fill="#4a4a4a" stroke="#fff" stroke-width="0.60"  style="font-size:40.5px" xml:space="preserve"><tspan font-weight="bold" stroke-width="1.00">Train</tspan><tspan > your admin</tspan></text>
<text x="1474.1" textLength="331.4" lengthAdjust="spacingAndGlyphs" y="820.0" fill="#4a4a4a" stroke="#fff" stroke-width="0.60"  style="font-size:40.5px" xml:space="preserve"><tspan >to ask for referrals</tspan></text>
<text x="1464.3" textLength="344.2" lengthAdjust="spacingAndGlyphs" y="870.5" fill="#4a4a4a" stroke="#fff" stroke-width="0.60"  style="font-size:40.5px" xml:space="preserve"><tspan font-weight="bold" stroke-width="1.00">Add</tspan><tspan > quarterly calls</tspan></text>
<text x="1474.1" textLength="338.7" lengthAdjust="spacingAndGlyphs" y="920.0" fill="#4a4a4a" stroke="#fff" stroke-width="0.60"  style="font-size:40.5px" xml:space="preserve"><tspan >to your ISA duties.</tspan></text>
<text x="1395.5" textLength="356.1" lengthAdjust="spacingAndGlyphs" y="1074.5" fill="#c8202f"   style="font-size:40.5px" xml:space="preserve"><tspan font-weight="bold">Turbo charge your</tspan></text>
<text x="1466.4" textLength="285.1" lengthAdjust="spacingAndGlyphs" y="1124.0" fill="#c8202f"   style="font-size:40.5px" xml:space="preserve"><tspan font-weight="bold">agent to agent</tspan></text>
<text x="1574.6" textLength="178.1" lengthAdjust="spacingAndGlyphs" y="1173.5" fill="#c8202f"   style="font-size:40.5px" xml:space="preserve"><tspan font-weight="bold">business</tspan></text>
<text x="1444.1" textLength="217.0" lengthAdjust="spacingAndGlyphs" y="1243.3" fill="#4a4a4a" stroke="#fff" stroke-width="0.60"  style="font-size:41.0px" xml:space="preserve"><tspan >Newsletters</tspan></text>
<text x="1442.1" textLength="219.7" lengthAdjust="spacingAndGlyphs" y="1316.6" fill="#4a4a4a" stroke="#fff" stroke-width="0.60"  style="font-size:41.0px" xml:space="preserve"><tspan >Host events</tspan></text>
<text x="1400.0" textLength="261.5" lengthAdjust="spacingAndGlyphs" y="1389.4" fill="#4a4a4a" stroke="#fff" stroke-width="0.60"  style="font-size:41.0px" xml:space="preserve"><tspan >Teach at other</tspan></text>
<text x="1378.4" textLength="283.9" lengthAdjust="spacingAndGlyphs" y="1432.7" fill="#4a4a4a" stroke="#fff" stroke-width="0.60"  style="font-size:41.0px" xml:space="preserve"><tspan >Market Centers</tspan></text>
<text x="1376.6" textLength="285.1" lengthAdjust="spacingAndGlyphs" y="1505.3" fill="#4a4a4a" stroke="#fff" stroke-width="0.60"  style="font-size:41.0px" xml:space="preserve"><tspan >Add Realtors to</tspan></text>
<text x="1353.2" textLength="310.5" lengthAdjust="spacingAndGlyphs" y="1549.1" fill="#4a4a4a" stroke="#fff" stroke-width="0.60"  style="font-size:41.0px" xml:space="preserve"><tspan >the VIP Program!</tspan></text>
<text x="1025.3" textLength="423.3" lengthAdjust="spacingAndGlyphs" y="1704.3" fill="#c8202f"   style="font-size:41.0px" xml:space="preserve"><tspan font-weight="bold">Create a VIP Program</tspan></text>
<text x="1009.5" textLength="456.5" lengthAdjust="spacingAndGlyphs" y="1758.2" fill="#4a4a4a" stroke="#fff" stroke-width="0.60"  style="font-size:41.0px" xml:space="preserve"><tspan >Quarterly calls, gifts, and</tspan></text>
<text x="1090.4" textLength="271.0" lengthAdjust="spacingAndGlyphs" y="1811.5" fill="#4a4a4a" stroke="#fff" stroke-width="0.60"  style="font-size:41.0px" xml:space="preserve"><tspan >special invites.</tspan></text>
<text x="1020.5" textLength="434.4" lengthAdjust="spacingAndGlyphs" y="1906.0" fill="#4a4a4a" stroke="#fff" stroke-width="0.60"  style="font-size:41.0px" xml:space="preserve"><tspan >1 referral earns an entry</tspan></text>
<text x="931.2" textLength="586.7" lengthAdjust="spacingAndGlyphs" y="1959.3" fill="#4a4a4a" stroke="#fff" stroke-width="0.60"  style="font-size:41.0px" xml:space="preserve"><tspan >into the program for 12 months.</tspan></text>
<text x="432.9" textLength="108.0" lengthAdjust="spacingAndGlyphs" y="1778.9" fill="#c8202f"   style="font-size:39.0px" xml:space="preserve"><tspan font-weight="bold">Track</tspan></text>
<text x="232.4" textLength="511.4" lengthAdjust="spacingAndGlyphs" y="1828.4" fill="#4a4a4a" stroke="#fff" stroke-width="0.60"  style="font-size:39.0px" xml:space="preserve"><tspan >Track referrals with a simple</tspan></text>
<text x="208.8" textLength="559.0" lengthAdjust="spacingAndGlyphs" y="1875.0" fill="#4a4a4a" stroke="#fff" stroke-width="0.60"  style="font-size:39.0px" xml:space="preserve"><tspan >form the agents can complete.</tspan></text>
<text x="185.0" textLength="283.5" lengthAdjust="spacingAndGlyphs" y="1950.4" fill="#4a4a4a"  stroke="#4a4a4a" stroke-width="0.5" style="font-size:27.5px" xml:space="preserve"><tspan >1. Referral Contact Info:</tspan></text>
<text x="510.3" textLength="186.7" lengthAdjust="spacingAndGlyphs" y="1950.4" fill="#4a4a4a"  stroke="#4a4a4a" stroke-width="0.5" style="font-size:27.5px" xml:space="preserve"><tspan >3. Lead Source:</tspan></text>
<text x="185.7" textLength="210.4" lengthAdjust="spacingAndGlyphs" y="2023.0" fill="#4a4a4a"  stroke="#4a4a4a" stroke-width="0.5" style="font-size:27.5px" xml:space="preserve"><tspan >2. Date Received:</tspan></text>
<text x="510.7" textLength="219.7" lengthAdjust="spacingAndGlyphs" y="2023.0" fill="#4a4a4a"  stroke="#4a4a4a" stroke-width="0.5" style="font-size:27.5px" xml:space="preserve"><tspan >4. Referral Source:</tspan></text>
<text x="1071.8" textLength="61.3" lengthAdjust="spacingAndGlyphs" y="1620.5" fill="#231f20"   style="font-size:103.0px" xml:space="preserve"><tspan font-weight="bold">2</tspan></text>
<text x="1314.5" textLength="60.2" lengthAdjust="spacingAndGlyphs" y="1175.0" fill="#231f20"   style="font-size:103.0px" xml:space="preserve"><tspan font-weight="bold">3</tspan></text>
<text x="1342.2" textLength="56.0" lengthAdjust="spacingAndGlyphs" y="717.0" fill="#231f20"   style="font-size:103.0px" xml:space="preserve"><tspan font-weight="bold">4</tspan></text>
<text x="330.8" textLength="161.6" lengthAdjust="spacingAndGlyphs" y="2249.6" fill="#c8202f" stroke="#f0f0f0" stroke-width="0.30"  style="font-size:50.0px" xml:space="preserve"><tspan >Pro Tip</tspan></text>
<text x="510.7" textLength="1089.2" lengthAdjust="spacingAndGlyphs" y="2249.6" fill="#231f20" stroke="#f0f0f0" stroke-width="1.00"  style="font-size:50.0px" xml:space="preserve"><tspan >Gifting books on Amazon is easy and shipping is free!</tspan></text>
<text x="55.5" textLength="415.4" lengthAdjust="spacingAndGlyphs" y="2445.0" fill="#4a4a4a" stroke="#fff" stroke-width="0.30"  style="font-size:31.0px" xml:space="preserve"><tspan >Where Entrepreneurs Thrive</tspan></text>
<text x="522.9" textLength="1333.4" lengthAdjust="spacingAndGlyphs" y="2334.7" fill="#8d8d8d" stroke="#fff" stroke-width="0.12"  style="font-size:18.5px" xml:space="preserve"><tspan >WARNING! You must comply with the TCPA and any other federal, state or local laws, including for B2B calls and texts. Never call or text a number on any Do</tspan></text>
<text x="521.4" textLength="1348.8" lengthAdjust="spacingAndGlyphs" y="2357.3" fill="#8d8d8d" stroke="#fff" stroke-width="0.12"  style="font-size:18.5px" xml:space="preserve"><tspan >Not Call list, and do not use an autodialer or artificial voice or prerecorded messages without proper consent. Contact your attorney to ensure your compliance.</tspan></text>
<text x="521.4" textLength="1353.3" lengthAdjust="spacingAndGlyphs" y="2380.2" fill="#8d8d8d" stroke="#fff" stroke-width="0.12"  style="font-size:18.5px" xml:space="preserve"><tspan >KWRI makes no warranties, either express or implied, with regard to the information and programs presented in these materials. KWRI will not accept liability for</tspan></text>
<text x="522.2" textLength="857.6" lengthAdjust="spacingAndGlyphs" y="2402.9" fill="#8d8d8d" stroke="#fff" stroke-width="0.12"  style="font-size:18.5px" xml:space="preserve"><tspan >any loss or damage of any kind that you incur as a result of the use of any content provided by KWRI.</tspan></text>
<text x="518.4" textLength="125.1" lengthAdjust="spacingAndGlyphs" y="2443.0" fill="#8d8d8d" stroke="#fff" stroke-width="0.12"  style="font-size:18.5px" xml:space="preserve"><tspan >Rev: 8/21/22 V</tspan></text>
<text x="672.9" textLength="293.1" lengthAdjust="spacingAndGlyphs" y="2443.0" fill="#8d8d8d" stroke="#fff" stroke-width="0.12"  style="font-size:18.5px" xml:space="preserve"><tspan >| ©2022 Keller Williams Realty, Inc.</tspan></text>
</svg>
</body></html>
